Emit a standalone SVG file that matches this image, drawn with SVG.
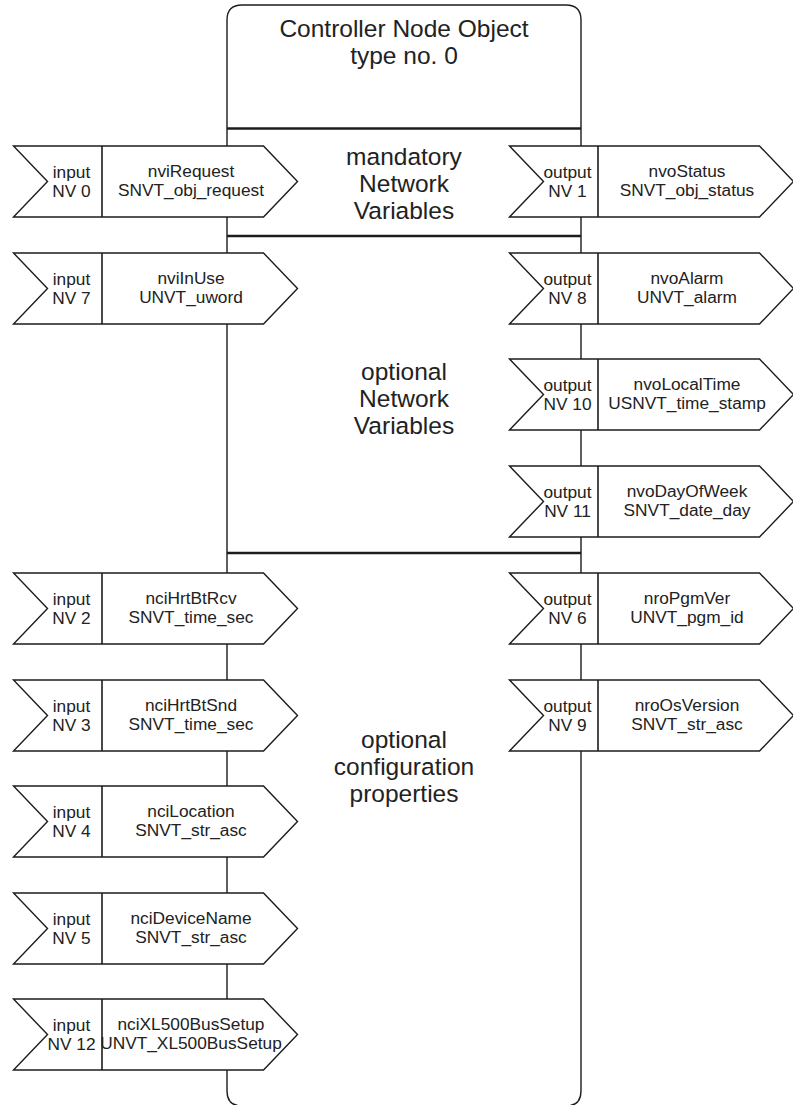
<svg xmlns="http://www.w3.org/2000/svg" xmlns:xlink="http://www.w3.org/1999/xlink" width="793" height="1105" viewBox="0 0 793 1105">
<style>
.ln{fill:none;stroke:#1c1c1c;stroke-width:1.4}
.sec{stroke:#1c1c1c;stroke-width:2.4}
.shape{fill:#fff;stroke:#1c1c1c;stroke-width:1.4;stroke-linejoin:miter}
.div{stroke:#1c1c1c;stroke-width:1.6}
text{font-family:"Liberation Sans",Arial,sans-serif;fill:#222;text-anchor:middle}
.big{font-size:24.5px}
.sm{font-size:17.3px}
</style>
<defs>
<g id="arrow">
<polygon class="shape" points="0,0 250,0 284,35.5 250,71 0,71 34,35.5"/>
<line class="div" x1="88.5" y1="0" x2="88.5" y2="71"/>
</g>
</defs>
<rect width="793" height="1105" fill="#fff"/>
<g id="controller">
<path class="ln" d="M227,20 Q227,5 242,5 L566,5 Q581,5 581,20 L581,1091 Q581,1106 566,1106 L242,1106 Q227,1106 227,1091 Z"/>
<line class="sec" x1="227" y1="128.5" x2="581" y2="128.5"/>
<line class="sec" x1="227" y1="236" x2="581" y2="236"/>
<line class="sec" x1="227" y1="553" x2="581" y2="553"/>
<text class="big" x="404" y="37">Controller Node Object</text>
<text class="big" x="404" y="64">type no. 0</text>
<text class="big" x="404" y="165">mandatory</text>
<text class="big" x="404" y="192">Network</text>
<text class="big" x="404" y="219">Variables</text>
<text class="big" x="404" y="380">optional</text>
<text class="big" x="404" y="407">Network</text>
<text class="big" x="404" y="434">Variables</text>
<text class="big" x="404" y="748">optional</text>
<text class="big" x="404" y="775">configuration</text>
<text class="big" x="404" y="802">properties</text>
</g>
<g id="connectors"></g>
<g id="nv0" transform="translate(13.5,146)"><use xlink:href="#arrow"/><text class="sm" x="58" y="32">input</text><text class="sm" x="58" y="51">NV 0</text><text class="sm" x="177.5" y="31">nviRequest</text><text class="sm" x="177.5" y="50">SNVT_obj_request</text></g>
<g id="nv7" transform="translate(13.5,253)"><use xlink:href="#arrow"/><text class="sm" x="58" y="32">input</text><text class="sm" x="58" y="51">NV 7</text><text class="sm" x="177.5" y="31">nviInUse</text><text class="sm" x="177.5" y="50">UNVT_uword</text></g>
<g id="nv2" transform="translate(13.5,573)"><use xlink:href="#arrow"/><text class="sm" x="58" y="32">input</text><text class="sm" x="58" y="51">NV 2</text><text class="sm" x="177.5" y="31">nciHrtBtRcv</text><text class="sm" x="177.5" y="50">SNVT_time_sec</text></g>
<g id="nv3" transform="translate(13.5,680)"><use xlink:href="#arrow"/><text class="sm" x="58" y="32">input</text><text class="sm" x="58" y="51">NV 3</text><text class="sm" x="177.5" y="31">nciHrtBtSnd</text><text class="sm" x="177.5" y="50">SNVT_time_sec</text></g>
<g id="nv4" transform="translate(13.5,786)"><use xlink:href="#arrow"/><text class="sm" x="58" y="32">input</text><text class="sm" x="58" y="51">NV 4</text><text class="sm" x="177.5" y="31">nciLocation</text><text class="sm" x="177.5" y="50">SNVT_str_asc</text></g>
<g id="nv5" transform="translate(13.5,893)"><use xlink:href="#arrow"/><text class="sm" x="58" y="32">input</text><text class="sm" x="58" y="51">NV 5</text><text class="sm" x="177.5" y="31">nciDeviceName</text><text class="sm" x="177.5" y="50">SNVT_str_asc</text></g>
<g id="nv12" transform="translate(13.5,999)"><use xlink:href="#arrow"/><text class="sm" x="58" y="32">input</text><text class="sm" x="58" y="51">NV 12</text><text class="sm" x="177.5" y="31">nciXL500BusSetup</text><text class="sm" x="177.5" y="50">UNVT_XL500BusSetup</text></g>
<g id="nv1" transform="translate(509.5,146)"><use xlink:href="#arrow"/><text class="sm" x="58" y="32">output</text><text class="sm" x="58" y="51">NV 1</text><text class="sm" x="177.5" y="31">nvoStatus</text><text class="sm" x="177.5" y="50">SNVT_obj_status</text></g>
<g id="nv8" transform="translate(509.5,253)"><use xlink:href="#arrow"/><text class="sm" x="58" y="32">output</text><text class="sm" x="58" y="51">NV 8</text><text class="sm" x="177.5" y="31">nvoAlarm</text><text class="sm" x="177.5" y="50">UNVT_alarm</text></g>
<g id="nv10" transform="translate(509.5,359)"><use xlink:href="#arrow"/><text class="sm" x="58" y="32">output</text><text class="sm" x="58" y="51">NV 10</text><text class="sm" x="177.5" y="31">nvoLocalTime</text><text class="sm" x="177.5" y="50">USNVT_time_stamp</text></g>
<g id="nv11" transform="translate(509.5,466)"><use xlink:href="#arrow"/><text class="sm" x="58" y="32">output</text><text class="sm" x="58" y="51">NV 11</text><text class="sm" x="177.5" y="31">nvoDayOfWeek</text><text class="sm" x="177.5" y="50">SNVT_date_day</text></g>
<g id="nv6" transform="translate(509.5,573)"><use xlink:href="#arrow"/><text class="sm" x="58" y="32">output</text><text class="sm" x="58" y="51">NV 6</text><text class="sm" x="177.5" y="31">nroPgmVer</text><text class="sm" x="177.5" y="50">UNVT_pgm_id</text></g>
<g id="nv9" transform="translate(509.5,680)"><use xlink:href="#arrow"/><text class="sm" x="58" y="32">output</text><text class="sm" x="58" y="51">NV 9</text><text class="sm" x="177.5" y="31">nroOsVersion</text><text class="sm" x="177.5" y="50">SNVT_str_asc</text></g>
</svg>
